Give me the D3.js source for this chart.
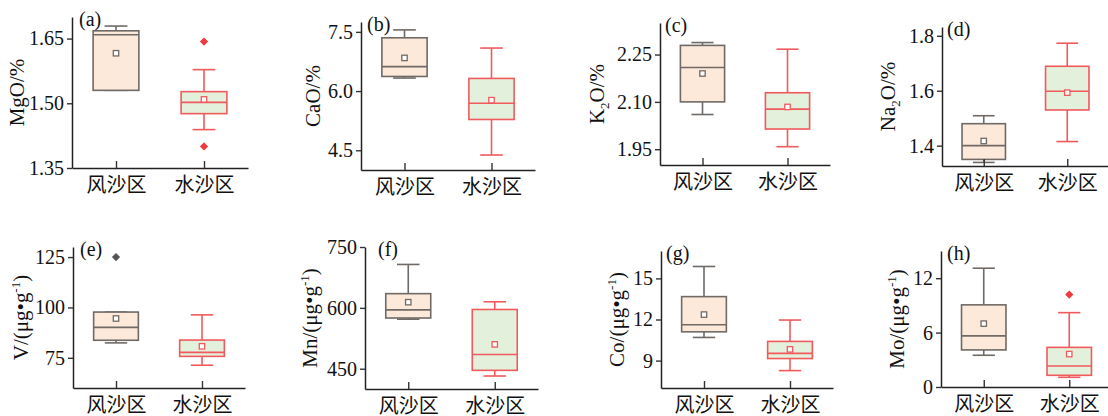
<!DOCTYPE html>
<html>
<head>
<meta charset="utf-8">
<script src="https://cdn.jsdelivr.net/npm/d3@7"></script>
<style>
  body { margin: 0; background: #fff; }
  svg text { font-family: "Liberation Serif", "Noto Sans CJK SC", serif; fill: #111; }
</style>
</head>
<body>
<div id="chart"></div>
<script>
// categories on every x axis
var categories = ["风沙区", "水沙区"];
var letters = ["(a)", "(b)", "(c)", "(d)", "(e)", "(f)", "(g)", "(h)"];

// box statistics per panel: [whisker low, q1, median, q3, whisker high, mean], one row per category
var mgoStats  = [[1.530, 1.530, 1.659, 1.668, 1.679, 1.616], [1.439, 1.476, 1.502, 1.527, 1.578, 1.509]];
var caoStats  = [[6.33, 6.37, 6.62, 7.35, 7.55, 6.84], [4.38, 5.28, 5.69, 6.32, 7.09, 5.77]];
var k2oStats  = [[2.060, 2.100, 2.209, 2.279, 2.288, 2.190], [1.958, 2.014, 2.077, 2.129, 2.267, 2.084]];
var na2oStats = [[1.339, 1.350, 1.400, 1.480, 1.509, 1.417], [1.415, 1.530, 1.598, 1.689, 1.773, 1.593]];
var vStats    = [[82.4, 83.7, 90.1, 97.7, 97.7, 94.5], [71.3, 75.7, 77.7, 83.8, 96.3, 80.7]];
var mnStats   = [[572, 575, 595, 635, 707, 614], [432, 446, 485, 596, 615, 510]];
var coStats   = [[10.69, 11.10, 11.62, 13.67, 15.87, 12.36], [8.27, 9.15, 9.53, 10.40, 11.96, 9.82]];
var moStats   = [[3.50, 4.09, 5.64, 9.06, 13.10, 6.99], [1.07, 1.29, 2.31, 4.37, 8.20, 3.63]];

// outliers per category
var mgoOut  = [[], [1.643, 1.400]];
var caoOut  = [[], []];
var k2oOut  = [[], []];
var na2oOut = [[], []];
var vOut    = [[125], []];
var mnOut   = [[], []];
var coOut   = [[], []];
var moOut   = [[], [10.2]];

// y axis ticks
var mgoTicks  = [1.35, 1.50, 1.65];
var caoTicks  = [4.5, 6.0, 7.5];
var k2oTicks  = [1.95, 2.10, 2.25];
var na2oTicks = [1.4, 1.6, 1.8];
var vTicks    = [75, 100, 125];
var mnTicks   = [450, 600, 750];
var coTicks   = [9, 12, 15];
var moTicks   = [0, 6, 12];

var panels = [
  {stats: mgoStats, out: mgoOut, ticks: mgoTicks, fmt: ".2f", domain: [1.35, 1.70], label: [["MgO/%", 0]]},
  {stats: caoStats, out: caoOut, ticks: caoTicks, fmt: ".1f", domain: [4.0, 7.75], label: [["CaO/%", 0]]},
  {stats: k2oStats, out: k2oOut, ticks: k2oTicks, fmt: ".2f", domain: [1.90, 2.35], label: [["K", 0], ["2", -1], ["O/%", 0]]},
  {stats: na2oStats, out: na2oOut, ticks: na2oTicks, fmt: ".1f", domain: [1.326, 1.832], label: [["Na", 0], ["2", -1], ["O/%", 0]]},
  {stats: vStats, out: vOut, ticks: vTicks, fmt: "d", domain: [60, 130], label: [["V/(μg•g", 0], ["-1", 1], [")", 0]]},
  {stats: mnStats, out: mnOut, ticks: mnTicks, fmt: "d", domain: [400, 750], label: [["Mn/(μg•g", 0], ["-1", 1], [")", 0]]},
  {stats: coStats, out: coOut, ticks: coTicks, fmt: "d", domain: [7, 17], label: [["Co/(μg•g", 0], ["-1", 1], [")", 0]]},
  {stats: moStats, out: moOut, ticks: moTicks, fmt: "d", domain: [0, 15], label: [["Mo/(μg•g", 0], ["-1", 1], [")", 0]]}
];

// plot frames: left, top, right, bottom, y-title x, letter x offset
var frames = [
  [72, 17, 248, 168, 17, 7],
  [361, 22, 535, 170, 313, 6],
  [660, 23, 830, 165, 597, 5],
  [942, 27, 1109, 166, 888, 5],
  [73, 247, 245, 388, 21, 7],
  [365, 247, 538, 389, 310, 13],
  [661, 251, 833, 388, 617, 5],
  [941, 251, 1112, 387, 897, 6]
];

var fills = ["#fde9d9", "#e3f1dc"];
var strokes = ["#6f6a66", "#f05a5c"];
var outColors = ["#555555", "#ee3b3e"];

var svg = d3.select("#chart").append("svg")
    .attr("width", 1108)
    .attr("height", 416);

panels.forEach(function(p, i) {
    var f = frames[i];
    var left = f[0], top = f[1], right = f[2], bottom = f[3];

    var x = d3.scalePoint().domain(categories).range([left, right]).padding(0.5);
    var y = d3.scaleLinear().domain(p.domain).range([bottom, top]);
    var boxW = x.step() * 0.52;
    var capW = boxW * 0.5;

    var g = svg.append("g");

    // boxes
    p.stats.forEach(function(s, k) {
        var cx = x(categories[k]);
        var bg = g.append("g")
            .attr("stroke", strokes[k])
            .attr("stroke-width", 1.6)
            .attr("fill", "none");
        // whiskers
        bg.append("line").attr("x1", cx).attr("x2", cx).attr("y1", y(s[0])).attr("y2", y(s[1]));
        bg.append("line").attr("x1", cx).attr("x2", cx).attr("y1", y(s[3])).attr("y2", y(s[4]));
        bg.append("line").attr("x1", cx - capW / 2).attr("x2", cx + capW / 2).attr("y1", y(s[0])).attr("y2", y(s[0]));
        bg.append("line").attr("x1", cx - capW / 2).attr("x2", cx + capW / 2).attr("y1", y(s[4])).attr("y2", y(s[4]));
        // box
        bg.append("rect")
            .attr("x", cx - boxW / 2)
            .attr("y", y(s[3]))
            .attr("width", boxW)
            .attr("height", y(s[1]) - y(s[3]))
            .attr("fill", fills[k]);
        bg.append("line").attr("x1", cx - boxW / 2).attr("x2", cx + boxW / 2).attr("y1", y(s[2])).attr("y2", y(s[2]));
        // mean
        bg.append("rect")
            .attr("x", cx - 2.7).attr("y", y(s[5]) - 2.7)
            .attr("width", 5.4).attr("height", 5.4)
            .attr("stroke-width", 1.3)
            .attr("fill", "#fff");
        // outliers
        g.selectAll(null)
            .data(p.out[k])
            .enter().append("path")
            .attr("d", d3.symbol().type(d3.symbolSquare).size(34))
            .attr("transform", function(d) { return "translate(" + cx + "," + y(d) + ") rotate(45)"; })
            .attr("fill", outColors[k]);
    });

    // axes
    var yAxis = g.append("g")
        .attr("transform", "translate(" + left + ",0)")
        .call(d3.axisLeft(y).tickValues(p.ticks).tickFormat(d3.format(p.fmt)).tickSize(5).tickSizeOuter(0).tickPadding(3));
    var xAxis = g.append("g")
        .attr("transform", "translate(0," + bottom + ")")
        .call(d3.axisBottom(x).tickSize(-7).tickSizeOuter(0).tickPadding(10));

    [yAxis, xAxis].forEach(function(a) {
        a.select(".domain").attr("stroke", "#222").attr("stroke-width", 1.5);
        a.selectAll(".tick line").attr("stroke", "#333").attr("stroke-width", 1.4);
        a.selectAll("text").attr("font-size", 20).attr("fill", "#111")
            .style("font-family", "'Liberation Serif', 'Noto Sans CJK SC', serif");
    });

    // panel letter
    g.append("text")
        .attr("x", left + f[5])
        .attr("y", top + 9)
        .attr("font-size", 20)
        .text(letters[i]);

    // y title
    var t = g.append("text")
        .attr("transform", "translate(" + f[4] + "," + ((top + bottom) / 2) + ") rotate(-90)")
        .attr("text-anchor", "middle")
        .attr("dy", "0.35em")
        .attr("font-size", 21);
    p.label.forEach(function(part, j) {
        var sp = t.append("tspan").text(part[0]);
        var prev = p.label[j - 1];
        if (part[1] === -1) sp.attr("font-size", 13).attr("dy", 5);
        if (part[1] === 1) sp.attr("font-size", 13).attr("dy", -8);
        if (part[1] === 0 && prev && prev[1] === -1) sp.attr("dy", -5);
        if (part[1] === 0 && prev && prev[1] === 1) sp.attr("dy", 8);
    });
});
</script>
</body>
</html>
